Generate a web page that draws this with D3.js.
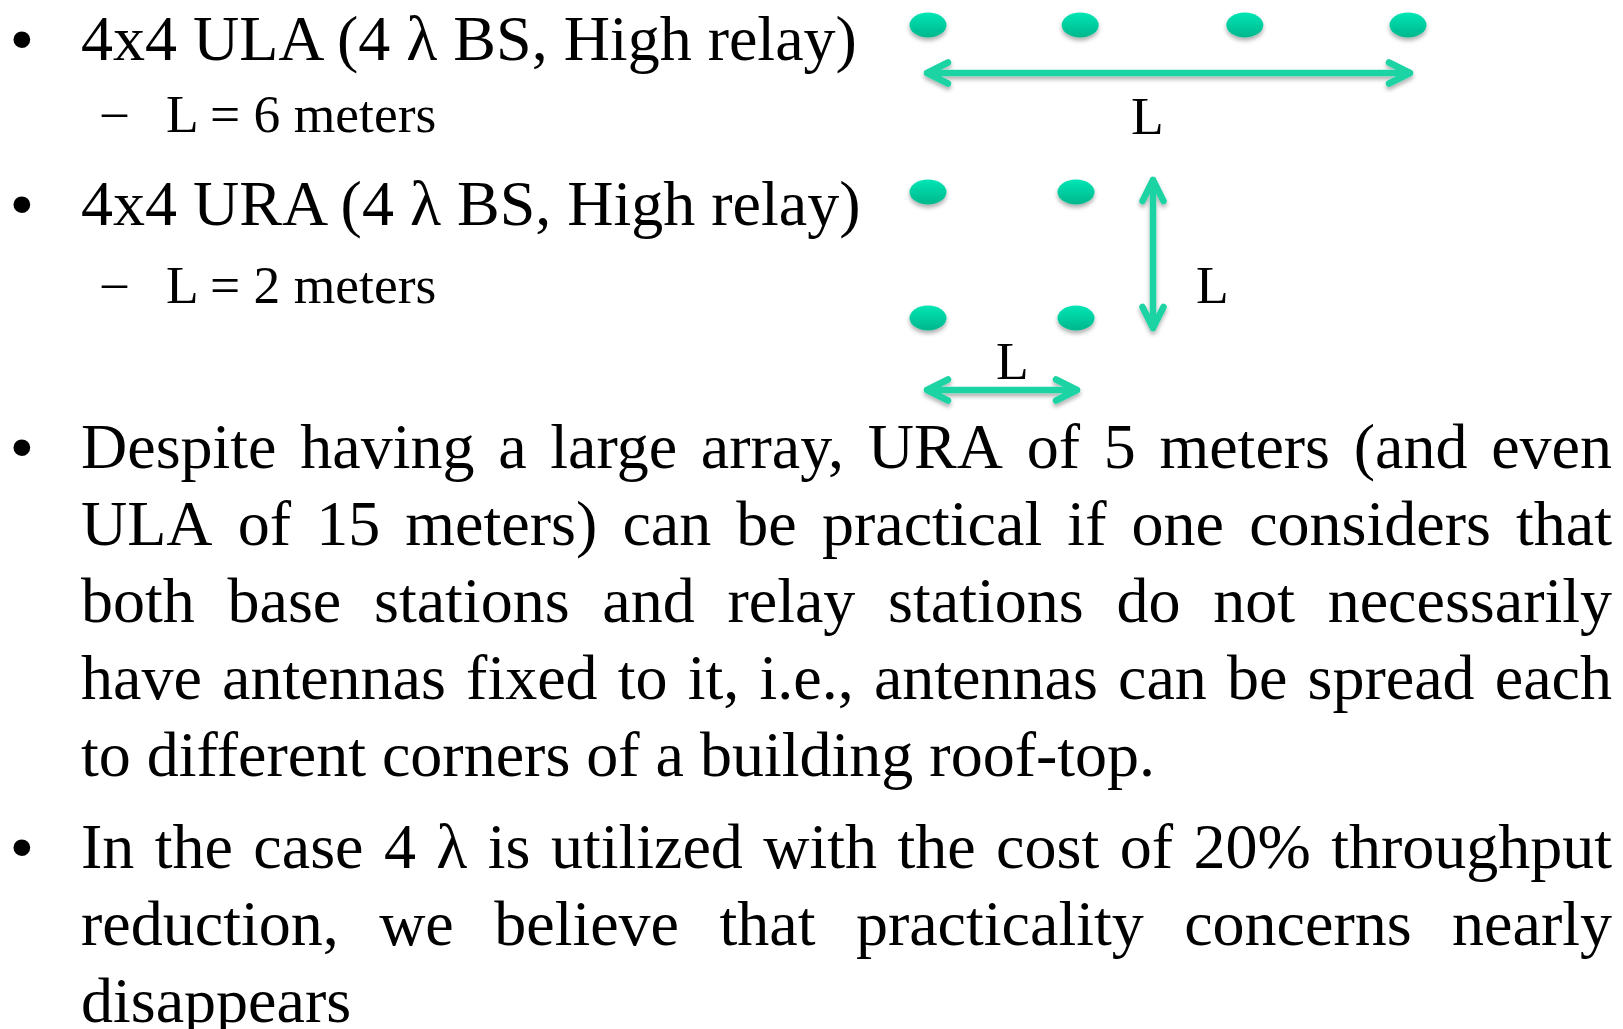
<!DOCTYPE html>
<html>
<head>
<meta charset="utf-8">
<script src="https://cdn.jsdelivr.net/npm/d3@7"></script>
<style>
  html, body { margin: 0; padding: 0; background: #ffffff; }
  svg { display: block; }
  text { font-family: "Liberation Serif", "Times New Roman", serif; fill: #000; }
</style>
</head>
<body>
<svg id="chart" width="1623" height="1029"></svg>
<script>
// ---------------- DATA ----------------
const headerBullets = ["4x4 ULA (4 λ BS, High relay)", "4x4 URA (4 λ BS, High relay)"];
const subBullets = ["L = 6 meters", "L = 2 meters"];
const paragraph1 = [
  "Despite having a large array, URA of 5 meters (and even",
  "ULA of 15 meters) can be practical if one considers that",
  "both base stations and relay stations do not necessarily",
  "have antennas fixed to it, i.e., antennas can be spread each",
  "to different corners of a building roof-top."
];
const paragraph2 = [
  "In the case 4 λ is utilized with the cost of 20% throughput",
  "reduction, we believe that practicality concerns nearly",
  "disappears"
];
// antenna element positions (fraction of the aperture L)
const ulaElements = [0, 0.317, 0.660, 1];
const uraCols = [0, 1];
const uraRows = [0, 1];
const dimLabel = "L";

// ---------------- LAYOUT ----------------
const svg = d3.select("#chart");
const teal = "#1ad3a3";
const mainSize = 64, subSize = 53.5;
const textLeft = 81, textRight = 1612;

const defs = svg.append("defs");
const grad = defs.append("linearGradient").attr("id", "dotGrad")
  .attr("x1", 0).attr("y1", 0).attr("x2", 0).attr("y2", 1);
grad.append("stop").attr("offset", "0%").attr("stop-color", "#04e6b5");
grad.append("stop").attr("offset", "100%").attr("stop-color", "#00b68c");
const sh = defs.append("filter").attr("id", "shadow")
  .attr("x", "-50%").attr("y", "-50%").attr("width", "200%").attr("height", "200%");
sh.append("feDropShadow").attr("dx", 0).attr("dy", 3).attr("stdDeviation", 2.2)
  .attr("flood-color", "#000").attr("flood-opacity", 0.32);

// ---- text helpers ----
function measure(str, size) {
  const t = svg.append("text").style("font-size", size + "px").text(str);
  const w = t.node().getComputedTextLength();
  t.remove();
  return w;
}
function drawLine(str, x, y, size, justifyWidth) {
  const t = svg.append("text").attr("y", y).style("font-size", size + "px");
  if (!justifyWidth) { t.attr("x", x).text(str); return; }
  const words = str.split(" ");
  const widths = words.map(w => measure(w, size));
  const gap = (justifyWidth - d3.sum(widths)) / (words.length - 1);
  let cx = x;
  words.forEach((w, i) => {
    t.append("tspan").attr("x", cx).text(w);
    cx += widths[i] + gap;
  });
}
function bullet(y) {
  svg.append("text").attr("x", 11).attr("y", y)
    .style("font-family", "'Liberation Sans', Arial, sans-serif")
    .style("font-size", "62px").text("•");
}
function dash(y) {
  svg.append("text").attr("x", 102).attr("y", y - 4)
    .style("font-size", "50px").text("–");
}

// ---- header bullets ----
const headerBase = [60, 225];
const subBase = [132, 303];
headerBullets.forEach((s, i) => { bullet(headerBase[i]); drawLine(s, textLeft, headerBase[i], mainSize); });
subBullets.forEach((s, i) => { dash(subBase[i]); drawLine(s, 166, subBase[i], subSize); });

// ---- paragraphs (justified) ----
const lineStep = 76.9;
function paragraph(lines, firstBase) {
  bullet(firstBase);
  lines.forEach((s, i) => {
    const last = i === lines.length - 1;
    drawLine(s, textLeft, firstBase + i * lineStep, mainSize, last ? null : textRight - textLeft);
  });
}
paragraph(paragraph1, 468);
paragraph(paragraph2, 868);

// ---------------- DIAGRAM ----------------
const ulaX = d3.scaleLinear().domain([0, 1]).range([928, 1408]);
const uraX = d3.scaleLinear().domain([0, 1]).range([928, 1076]);
const uraY = d3.scaleLinear().domain([0, 1]).range([192, 318]);
const ulaRowY = 25;

const dots = svg.append("g").attr("filter", "url(#shadow)");
dots.selectAll("ellipse.ula").data(ulaElements).join("ellipse").attr("class", "ula")
  .attr("cx", d => ulaX(d)).attr("cy", ulaRowY).attr("rx", 18.5).attr("ry", 12.5)
  .attr("fill", "url(#dotGrad)");
const grid = d3.cross(uraCols, uraRows);
dots.selectAll("ellipse.ura").data(grid).join("ellipse").attr("class", "ura")
  .attr("cx", d => uraX(d[0])).attr("cy", d => uraY(d[1])).attr("rx", 18.5).attr("ry", 12.5)
  .attr("fill", "url(#dotGrad)");

// double arrows
const arrows = svg.append("g").attr("filter", "url(#shadow)")
  .attr("stroke", teal).attr("stroke-width", 6.5).attr("stroke-linecap", "round")
  .attr("stroke-linejoin", "round").attr("fill", "none");
function dblArrow(x1, y1, x2, y2) {
  const ang = Math.atan2(y2 - y1, x2 - x1);
  const a = 21, b = 10.5;
  const head = (tx, ty, dir) => {
    const ux = Math.cos(ang) * dir, uy = Math.sin(ang) * dir;
    const px = -uy, py = ux;
    return `M${tx + ux * a + px * b},${ty + uy * a + py * b}L${tx},${ty}L${tx + ux * a - px * b},${ty + uy * a - py * b}`;
  };
  arrows.append("path").attr("d", `M${x1},${y1}L${x2},${y2}` + head(x1, y1, 1) + head(x2, y2, -1));
}
dblArrow(ulaX(0) - 1, 73, ulaX(1) + 2, 73);
dblArrow(1153, uraY(0) - 12, 1153, uraY(1) + 10);
dblArrow(uraX(0) - 1, 390, uraX(1) + 1, 390);

// dimension labels
svg.append("text").attr("x", 1131).attr("y", 134).style("font-size", subSize + "px").text(dimLabel);
svg.append("text").attr("x", 1196).attr("y", 303).style("font-size", subSize + "px").text(dimLabel);
svg.append("text").attr("x", 996).attr("y", 379).style("font-size", subSize + "px").text(dimLabel);
</script>
</body>
</html>
